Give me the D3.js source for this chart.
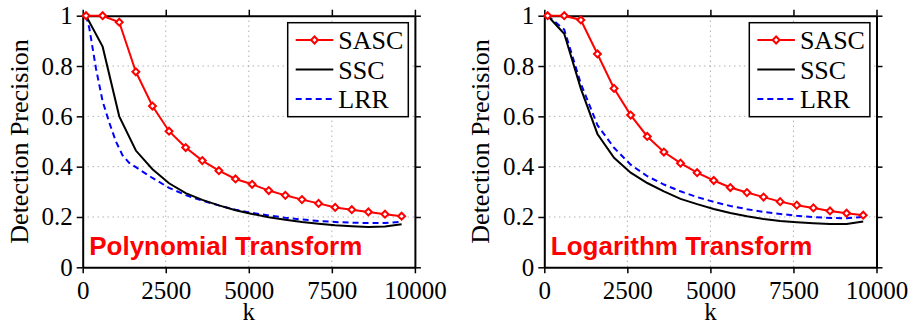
<!DOCTYPE html>
<html>
<head>
<meta charset="utf-8">
<script src="https://cdn.jsdelivr.net/npm/d3@7"></script>
<style>
  body { margin: 0; background: #fff; }
  svg { display: block; }
</style>
</head>
<body>
<svg id="chart"></svg>
<script>
// k values shared by SASC and SSC (and LRR in the log panel)
const kValues = [100, 600, 1100, 1600, 2100, 2600, 3100, 3600, 4100, 4600,
                 5100, 5600, 6100, 6600, 7100, 7600, 8100, 8600, 9100, 9600];
// LRR in the polynomial panel is sampled more densely at the start
const lrrPolyK = [100, 200, 300, 400, 500, 600, 800, 1000, 1200, 1400, 1600, 2100, 2600,
                  3100, 3600, 4100, 4600, 5100, 5600, 6100, 6600, 7100, 7600, 8100, 8600, 9100, 9600];

const sascPoly = [1.0, 1.0, 0.974, 0.777, 0.641, 0.541, 0.476, 0.424, 0.384, 0.351,
                  0.330, 0.305, 0.286, 0.269, 0.254, 0.238, 0.229, 0.220, 0.211, 0.203];
const sscPoly  = [1.0, 0.877, 0.600, 0.464, 0.390, 0.334, 0.295, 0.268, 0.246, 0.227,
                  0.212, 0.199, 0.189, 0.180, 0.173, 0.167, 0.163, 0.160, 0.162, 0.171];
const lrrPoly  = [1.0, 0.95, 0.87, 0.79, 0.725, 0.66, 0.575, 0.50, 0.445, 0.415, 0.398, 0.355, 0.316,
                  0.287, 0.265, 0.246, 0.229, 0.216, 0.206, 0.197, 0.190, 0.184, 0.180, 0.177, 0.176, 0.176, 0.181];

const sascLog = [1.0, 1.0, 0.983, 0.848, 0.711, 0.605, 0.520, 0.458, 0.414, 0.376,
                 0.345, 0.317, 0.297, 0.279, 0.261, 0.247, 0.236, 0.224, 0.215, 0.207];
const sscLog  = [1.0, 0.928, 0.710, 0.530, 0.435, 0.376, 0.335, 0.302, 0.272, 0.251,
                 0.232, 0.216, 0.203, 0.192, 0.184, 0.179, 0.175, 0.172, 0.172, 0.182];
const lrrLog  = [1.0, 0.945, 0.730, 0.565, 0.475, 0.408, 0.362, 0.329, 0.302, 0.279,
                 0.260, 0.244, 0.231, 0.220, 0.212, 0.205, 0.200, 0.196, 0.195, 0.200];

const xTicks = [0, 2500, 5000, 7500, 10000];
const yTicks = [0, 0.2, 0.4, 0.6, 0.8, 1];
const yTickLabels = ["0", "0.2", "0.4", "0.6", "0.8", "1"];
const seriesNames = ["SASC", "SSC", "LRR"];
const panelTitles = ["Polynomial Transform", "Logarithm Transform"];

const serif = '"Liberation Serif", "Times New Roman", serif';

class PrecisionPlot {
    constructor(svg, left, top = 15.7, width = 332.2, height = 251.6) {
        this.svg = svg;
        this.left = left;
        this.top = top;
        this.width = width;
        this.height = height;
    }

    initialize() {
        this.g = this.svg.append("g")
            .attr("transform", `translate(${this.left}, ${this.top})`);

        this.xScale = d3.scaleLinear().domain([0, 10000]).range([0, this.width]);
        this.yScale = d3.scaleLinear().domain([0, 1]).range([this.height, 0]);

        // dotted grid
        this.g.append("g").selectAll("line")
            .data(xTicks.slice(1, -1))
            .join("line")
            .attr("x1", d => this.xScale(d)).attr("x2", d => this.xScale(d))
            .attr("y1", 0).attr("y2", this.height)
            .attr("stroke", "#8a8a8a").attr("stroke-width", 1)
            .attr("stroke-dasharray", "1,4");
        this.g.append("g").selectAll("line")
            .data(yTicks.slice(1, -1))
            .join("line")
            .attr("y1", d => this.yScale(d)).attr("y2", d => this.yScale(d))
            .attr("x1", 0).attr("x2", this.width)
            .attr("stroke", "#8a8a8a").attr("stroke-width", 1)
            .attr("stroke-dasharray", "1,4");

        // axes on all four sides (box)
        const styleAxis = sel => {
            sel.attr("font-family", serif).attr("font-size", 25);
            sel.select(".domain").attr("stroke", "#000").attr("stroke-width", 2);
            sel.selectAll(".tick line").attr("stroke", "#000").attr("stroke-width", 1.5);
            sel.selectAll(".tick text").attr("fill", "#000");
        };
        this.g.append("g")
            .attr("transform", `translate(0, ${this.height})`)
            .call(d3.axisBottom(this.xScale).tickValues(xTicks).tickSize(6).tickSizeOuter(0).tickPadding(8).tickFormat(d3.format("d")))
            .call(styleAxis);
        this.g.append("g")
            .call(d3.axisTop(this.xScale).tickValues(xTicks).tickSize(6).tickSizeOuter(0).tickFormat(""))
            .call(styleAxis);
        this.g.append("g")
            .call(d3.axisLeft(this.yScale).tickValues(yTicks).tickSize(6).tickSizeOuter(0).tickPadding(4)
                .tickFormat((d, i) => yTickLabels[i]))
            .call(styleAxis);
        this.g.append("g")
            .attr("transform", `translate(${this.width}, 0)`)
            .call(d3.axisRight(this.yScale).tickValues(yTicks).tickSize(6).tickSizeOuter(0).tickFormat(""))
            .call(styleAxis);

        // axis labels
        this.g.append("text")
            .attr("transform", `translate(-55, ${this.height / 2}) rotate(-90)`)
            .attr("text-anchor", "middle")
            .attr("font-family", serif).attr("font-size", 26)
            .text("Detection Precision");
        this.g.append("text")
            .attr("x", this.width / 2)
            .attr("y", this.height + 52.8)
            .attr("text-anchor", "middle")
            .attr("font-family", serif).attr("font-size", 25)
            .text("k");

        this.lines = this.g.append("g");
        this.legend = this.g.append("g");
    }

    update(series, title) {
        const line = d3.line()
            .x(d => this.xScale(d[0]))
            .y(d => this.yScale(d[1]));
        const marker = d3.symbol(d3.symbolSquare, 24);

        // draw LRR first, then SSC, then SASC on top
        series.slice().reverse().forEach(s => {
            const pts = s.k.map((k, i) => [k, s.values[i]]);
            this.lines.append("path")
                .datum(pts)
                .attr("d", line)
                .attr("fill", "none")
                .attr("stroke", s.color)
                .attr("stroke-width", 2)
                .attr("stroke-dasharray", s.dash || null);
            if (s.marker) {
                this.lines.append("g").selectAll("path")
                    .data(pts)
                    .join("path")
                    .attr("d", marker)
                    .attr("transform", d => `translate(${this.xScale(d[0])}, ${this.yScale(d[1])}) rotate(45)`)
                    .attr("fill", "#fff")
                    .attr("stroke", s.color)
                    .attr("stroke-width", 2);
            }
        });

        this.g.append("text")
            .attr("x", 6.5)
            .attr("y", 239.5)
            .attr("font-family", '"Liberation Sans", Arial, sans-serif')
            .attr("font-weight", "bold")
            .attr("font-size", 26)
            .attr("fill", "#ff0000")
            .text(title);

        // legend box
        const lx = 205, ly = 7, lw = 120.6, lh = 94;
        this.legend.append("rect")
            .attr("x", lx).attr("y", ly).attr("width", lw).attr("height", lh)
            .attr("fill", "#fff").attr("stroke", "#000").attr("stroke-width", 1.5);
        const rows = [24.3, 53.8, 83.3];
        series.forEach((s, i) => {
            const row = this.legend.append("g").attr("transform", `translate(${lx}, ${rows[i]})`);
            row.append("line")
                .attr("x1", 8).attr("x2", 45.6).attr("y1", 0).attr("y2", 0)
                .attr("stroke", s.color).attr("stroke-width", 2)
                .attr("stroke-dasharray", s.dash || null);
            if (s.marker) {
                row.append("path")
                    .attr("d", marker)
                    .attr("transform", "translate(26.8, 0) rotate(45)")
                    .attr("fill", "#fff").attr("stroke", s.color).attr("stroke-width", 2);
            }
            row.append("text")
                .attr("x", 50.6).attr("y", 9.3)
                .attr("font-family", serif).attr("font-size", 26)
                .text(s.name);
        });
    }
}

const svg = d3.select("#chart").attr("width", 915).attr("height", 326);

const polyPlot = new PrecisionPlot(svg, 82.7);
polyPlot.initialize();
polyPlot.update([
    { name: seriesNames[0], k: kValues, values: sascPoly, color: "#ff0000", marker: true },
    { name: seriesNames[1], k: kValues, values: sscPoly, color: "#000000" },
    { name: seriesNames[2], k: lrrPolyK, values: lrrPoly, color: "#0000ff", dash: "6,4" }
], panelTitles[0]);

const logPlot = new PrecisionPlot(svg, 544.3);
logPlot.initialize();
logPlot.update([
    { name: seriesNames[0], k: kValues, values: sascLog, color: "#ff0000", marker: true },
    { name: seriesNames[1], k: kValues, values: sscLog, color: "#000000" },
    { name: seriesNames[2], k: kValues, values: lrrLog, color: "#0000ff", dash: "6,4" }
], panelTitles[1]);
</script>
</body>
</html>
